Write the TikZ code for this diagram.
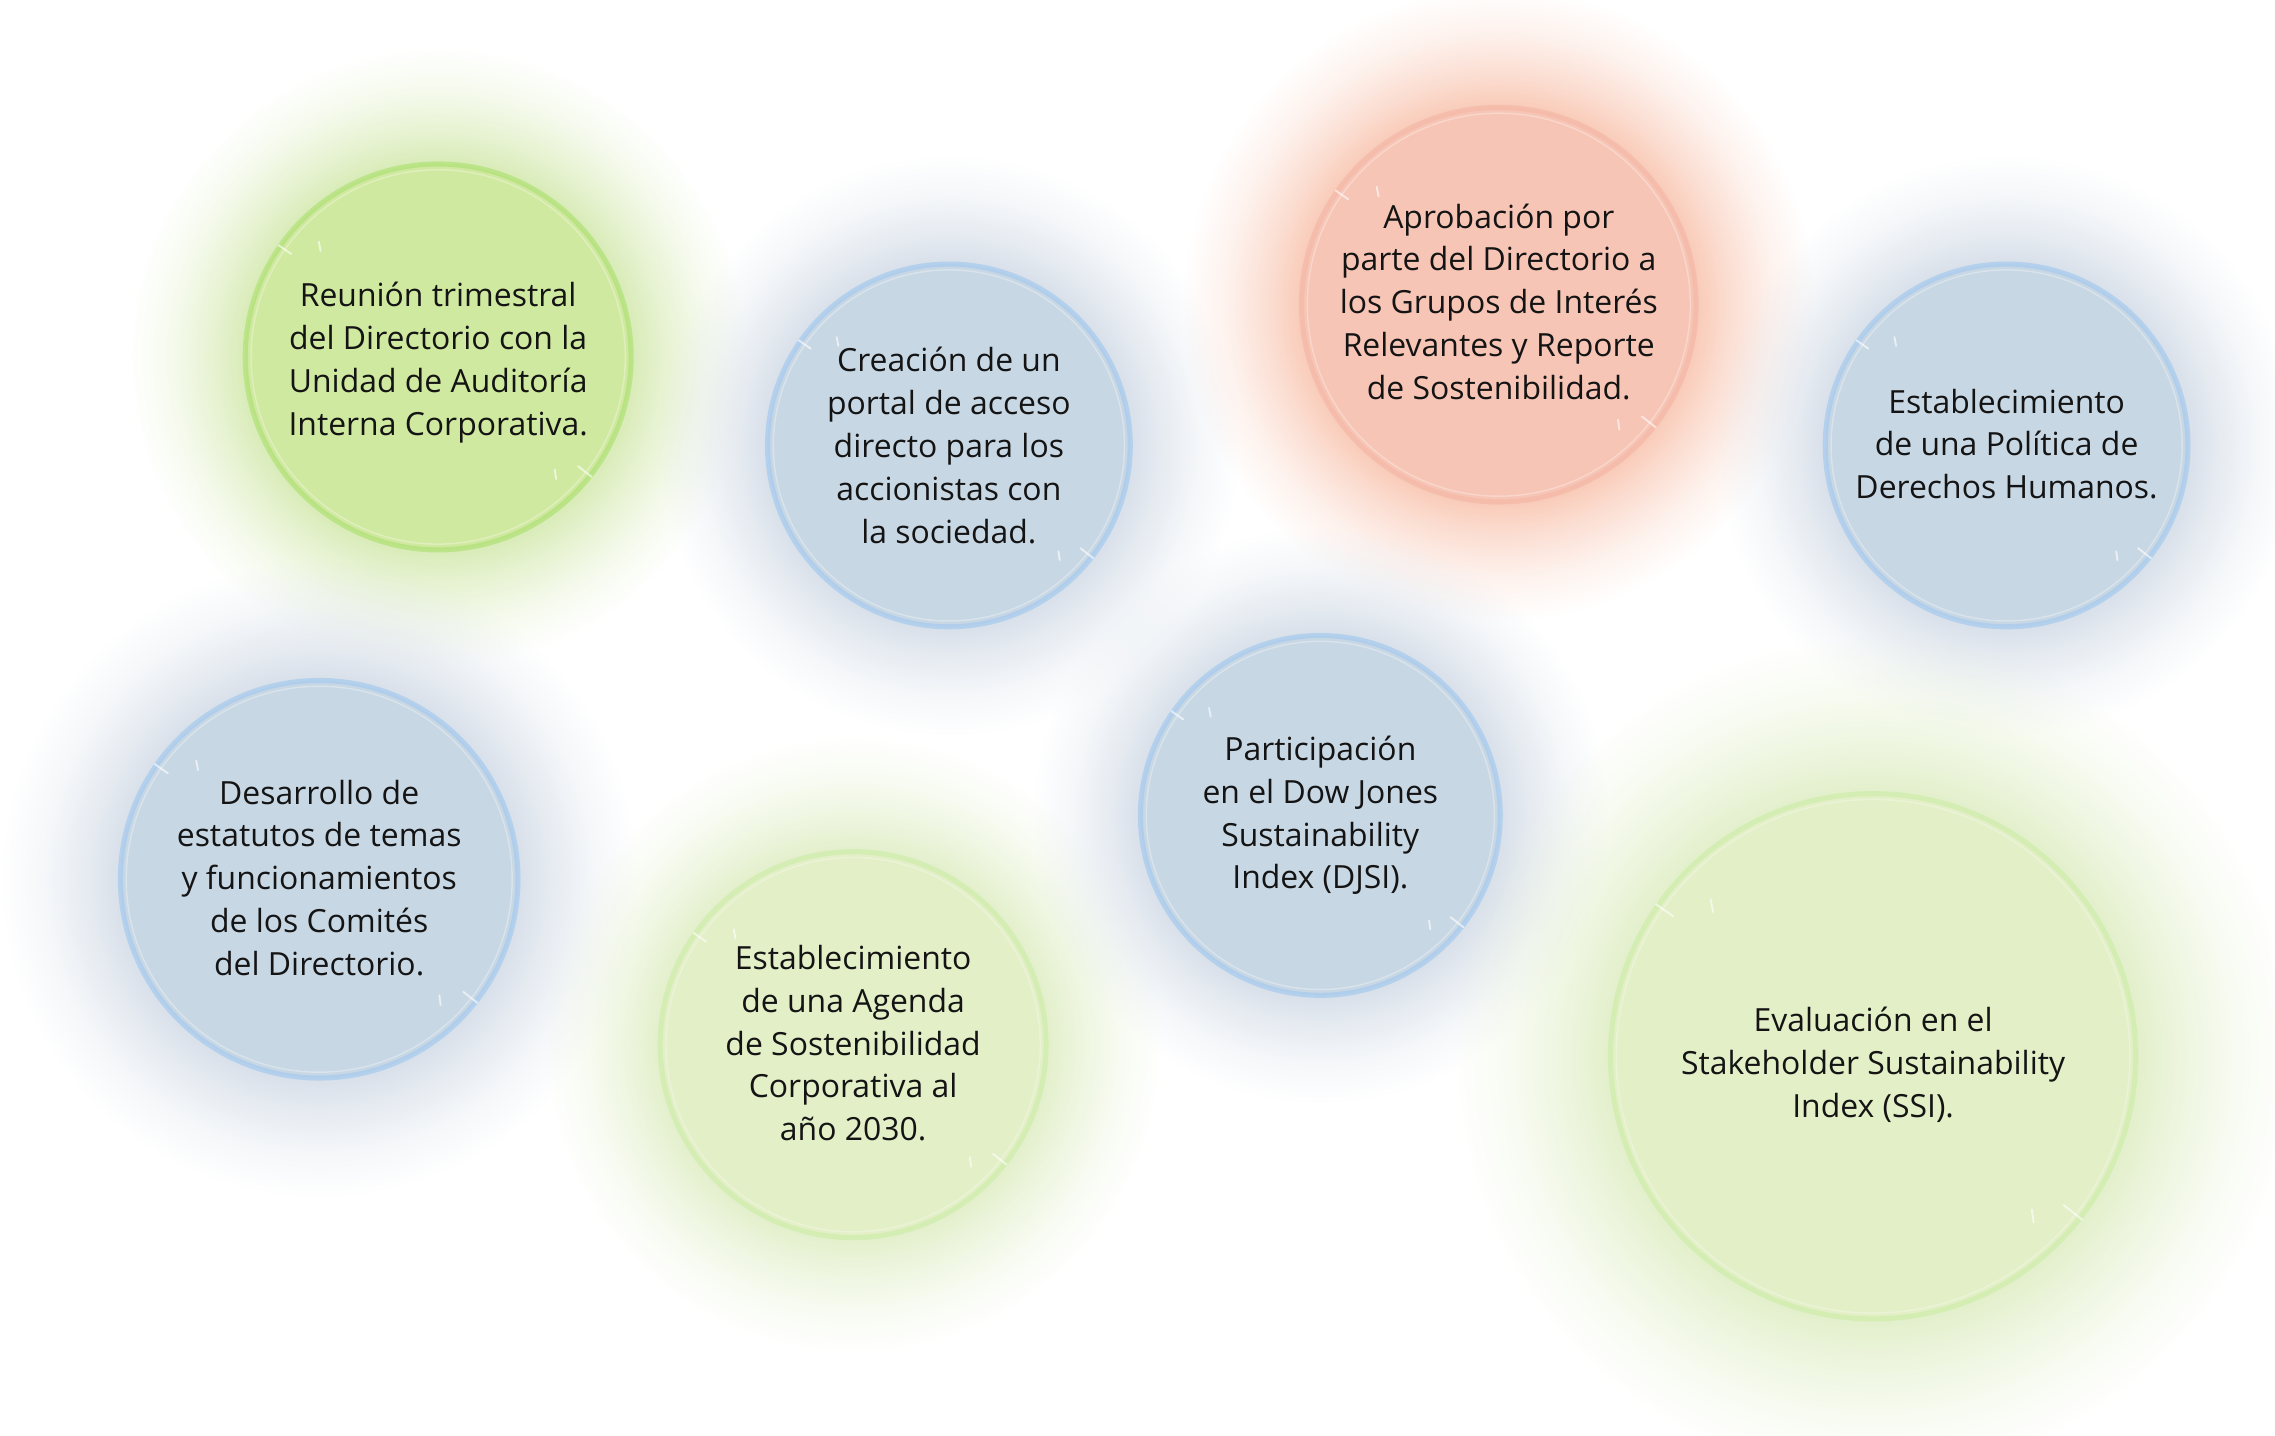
\documentclass[tikz,border=0pt]{standalone}
\usepackage{fontspec}
\setmainfont{Open Sans}
\usetikzlibrary{fadings,calc}
\pgfdeclareradialshading{glowsh}{\pgfpointorigin}{color(0bp)=(pgftransparent!0); color(15.5bp)=(pgftransparent!0); color(18bp)=(pgftransparent!35); color(21.5bp)=(pgftransparent!75); color(25bp)=(pgftransparent!100); color(50bp)=(pgftransparent!100)}
\pgfdeclarefading{glowfade}{\pgfuseshading{glowsh}}
\definecolor{gAfill}{RGB}{208,233,160}
\definecolor{gAring}{RGB}{178,226,122}
\definecolor{gAglow}{RGB}{216,235,182}
\definecolor{bfill}{RGB}{200,215,228}
\definecolor{bring}{RGB}{168,204,238}
\definecolor{bglow}{RGB}{215,223,233}
\definecolor{rfill}{RGB}{247,197,181}
\definecolor{rring}{RGB}{245,184,168}
\definecolor{rglow}{RGB}{249,202,183}
\definecolor{gBfill}{RGB}{227,239,199}
\definecolor{gBring}{RGB}{208,237,172}
\definecolor{gBglow}{RGB}{226,239,202}
\definecolor{txt}{RGB}{20,20,20}
\tikzset{
  bubble/.style={circle, inner sep=0pt, line width=3.5pt, draw opacity=0.75},
  label text/.style={align=center, text=txt, inner sep=0pt,
    font=\fontsize{22}{29.5}\selectfont},
  glint/.style={white, line width=1.3pt, opacity=0.6, line cap=round},
  innerline/.style={white, line width=1pt, opacity=0.3}
}
\begin{document}
\begin{tikzpicture}[x=1pt,y=-1pt]
\useasboundingbox (0,0) rectangle (1568,989.7);
% centres
\coordinate (c1) at (302,246);
\coordinate (c2) at (654,307);
\coordinate (c3) at (1033,210);
\coordinate (c4) at (1383,307);
\coordinate (c5) at (220,606);
\coordinate (c6) at (588,720);
\coordinate (c7) at (910,562);
\coordinate (c8) at (1291,728);
% glows
\foreach \c/\r/\col in {c1/133/gAglow, c2/125/bglow, c3/136/rglow, c4/125/bglow,
                        c5/137/bglow, c6/133/gBglow, c7/124/bglow, c8/181/gBglow}{
  \fill[\col, path fading=glowfade] (\c) circle[radius=1.6*\r];
}
% bubbles
\node[bubble, minimum size=266pt, fill=gAfill, draw=gAring] (n1) at (c1) {};
\node[bubble, minimum size=250pt, fill=bfill, draw=bring] (n2) at (c2) {};
\node[bubble, minimum size=272pt, fill=rfill, draw=rring] (n3) at (c3) {};
\node[bubble, minimum size=250pt, fill=bfill, draw=bring] (n4) at (c4) {};
\node[bubble, minimum size=274pt, fill=bfill, draw=bring] (n5) at (c5) {};
\node[bubble, minimum size=266pt, fill=gBfill, draw=gBring] (n6) at (c6) {};
\node[bubble, minimum size=248pt, fill=bfill, draw=bring] (n7) at (c7) {};
\node[bubble, minimum size=362pt, fill=gBfill, draw=gBring] (n8) at (c8) {};
% inner light lines and glints
\foreach \c/\r in {c1/133, c2/125, c3/136, c4/125, c5/137, c6/133, c7/124, c8/181}{
  \draw[innerline] (\c) circle[radius=\r-4];
  \draw[glint] ($(\c)+(-145:\r*0.93)$) -- ($(\c)+(-145:\r*1.01)$);
  \draw[glint] ($(\c)+(-138:\r*0.82)$) -- ($(\c)+(-136:\r*0.86)$);
  \draw[glint] ($(\c)+(38:\r*0.92)$) -- ($(\c)+(38:\r*1.01)$);
  \draw[glint] ($(\c)+(44:\r*0.84)$) -- ($(\c)+(46:\r*0.88)$);
}
% texts
\node[label text] (t1) at (302,250)
  {Reunión trimestral\\del Directorio con la\\Unidad de Auditoría\\Interna Corporativa.};
\node[label text] (t2) at (654,307)
  {Creación de un\\portal de acceso\\directo para los\\accionistas con\\la sociedad.};
\node[label text] (t3) at (1033,208)
  {Aprobación por\\parte del Directorio a\\los Grupos de Interés\\Relevantes y Reporte\\de Sostenibilidad.};
\node[label text] (t4) at (1383,306)
  {Establecimiento\\de una Política de\\Derechos Humanos.};
\node[label text] (t5) at (220,605)
  {Desarrollo de\\estatutos de temas\\y funcionamientos\\de los Comités\\del Directorio.};
\node[label text] (t6) at (588,719)
  {Establecimiento\\de una Agenda\\de Sostenibilidad\\Corporativa al\\año 2030.};
\node[label text] (t7) at (910,562)
  {Participación\\en el Dow Jones\\Sustainability\\Index (DJSI).};
\node[label text] (t8) at (1291,734)
  {Evaluación en el\\Stakeholder Sustainability\\Index (SSI).};
\end{tikzpicture}
\end{document}
